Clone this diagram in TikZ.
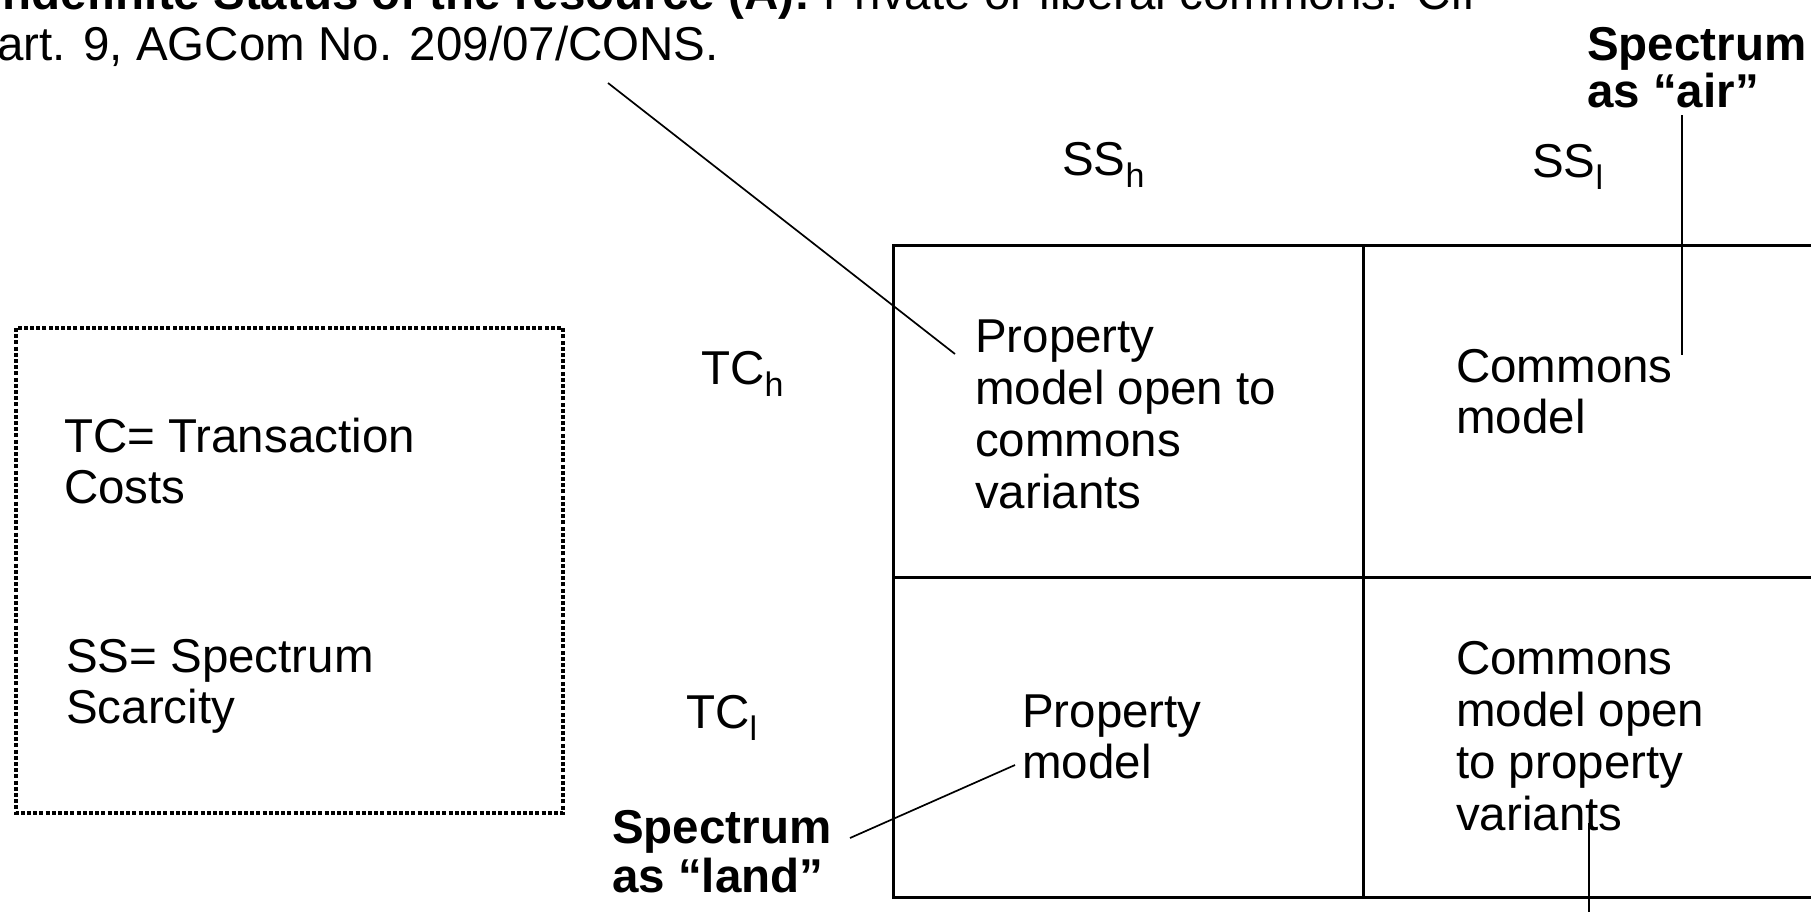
\documentclass[tikz,border=0pt]{standalone}
\usepackage{fontspec}
\setmainfont{Liberation Sans}
\newcommand{\lowsub}[1]{\raisebox{-12pt}{\fontsize{34}{34}\selectfont #1}}
\tikzset{
  txt/.style={anchor=base west, inner sep=0pt, font=\fontsize{47.5}{52}\selectfont},
  btxt/.style={anchor=base west, inner sep=0pt, font=\fontsize{47.5}{52}\selectfont\bfseries},
  gridline/.style={line width=3pt},
  leader/.style={line width=1.7pt},
  legendbox/.style={line width=4.5pt, dash pattern=on 4pt off 2.2pt},
}
\begin{document}
\begin{tikzpicture}[x=1pt,y=-1pt]
\useasboundingbox (0,0) rectangle (1811,911);
\clip (0,0) rectangle (1811,911);

% header text (cropped at the top, as in the source)
\node[txt] (hdr1) at (-11,9) {{\bfseries Indefinite Status of the resource (A):} Private or liberal commons. Cfr};
\node[txt] (hdr2) at (-3,60) {art. 9, AGCom No. 209/07/CONS.};

% legend box
\draw[legendbox] (16,328) rectangle (563,813);
\node[txt] (lg1) at (64,452) {TC= Transaction};
\node[txt] (lg2) at (64,503) {Costs};
\node[txt] (lg3) at (66,672) {SS= Spectrum};
\node[txt] (lg4) at (66,723) {Scarcity};

% column / row heads
\node[txt] (ssh) at (1062,175) {SS\lowsub{h}};
\node[txt] (ssl) at (1532,177) {SS\lowsub{l}};
\node[txt] (tch) at (701,384) {TC\lowsub{h}};
\node[txt] (tcl) at (686,728) {TC\lowsub{l}};

% grid
\draw[gridline] (893,245) rectangle (1850,897);
\draw[gridline] (1363,245) -- (1363,897);
\draw[gridline] (893,577) -- (1850,577);

% cell texts
\node[txt] (a1) at (975,352) {Property};
\node[txt] (a2) at (975,404) {model open to};
\node[txt] (a3) at (975,456) {commons};
\node[txt] (a4) at (975,508) {variants};

\node[txt] (b1) at (1456,382) {Commons};
\node[txt] (b2) at (1456,433) {model};

\node[txt] (c1) at (1022,727) {Property};
\node[txt] (c2) at (1022,778) {model};

\node[txt] (d1) at (1456,674) {Commons};
\node[txt] (d2) at (1456,726) {model open};
\node[txt] (d3) at (1456,778) {to property};
\node[txt] (d4) at (1456,830) {variants};

% bold labels
\node[btxt] (air1) at (1587,60) {Spectrum};
\node[btxt] (air2) at (1587,107) {as “air”};
\node[btxt] (land1) at (612,843) {Spectrum};
\node[btxt] (land2) at (612,892) {as “land”};

% leader lines
\coordinate (l1s) at (608,83);
\coordinate (l1e) at (955,354);
\draw[leader] (l1s) -- (l1e);

\coordinate (l2s) at (850,838);
\coordinate (l2e) at (1015,765);
\draw[leader] (l2s) -- (l2e);

\coordinate (l3s) at (1682,115);
\coordinate (l3e) at (1682,355);
\draw[leader] (l3s) -- (l3e);

\coordinate (l4s) at (1589,823);
\coordinate (l4e) at (1589,915);
\draw[leader] (l4s) -- (l4e);
\end{tikzpicture}
\end{document}
